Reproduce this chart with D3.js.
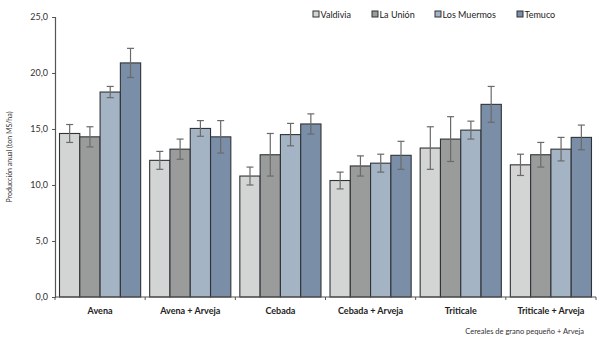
<!DOCTYPE html>
<html><head><meta charset="utf-8">
<script src="https://cdn.jsdelivr.net/npm/d3@7"></script>
<style>body{margin:0;background:#fff}svg{display:block}text{font-family:Lato,"Open Sans",sans-serif}</style>
</head><body>
<svg id="c" width="600" height="342"></svg>
<script>
const categories = ["Avena","Avena + Arveja","Cebada","Cebada + Arveja","Triticale","Triticale + Arveja"];
const series = ["Valdivia","La Unión","Los Muermos","Temuco"];
const valdivia   = [14.6, 12.2, 10.8, 10.4, 13.3, 11.8];
const laUnion    = [14.3, 13.2, 12.7, 11.7, 14.1, 12.7];
const losMuermos = [18.3, 15.05, 14.5, 11.95, 14.9, 13.2];
const temuco     = [20.9, 14.3, 15.45, 12.65, 17.2, 14.25];
const errValdivia   = [0.8, 0.8, 0.8, 0.75, 1.9, 0.95];
const errLaUnion    = [0.9, 0.9, 1.9, 0.9, 2.0, 1.1];
const errLosMuermos = [0.5, 0.7, 1.0, 0.8, 0.8, 1.05];
const errTemuco     = [1.3, 1.45, 0.9, 1.25, 1.6, 1.1];
const yTicks = [0,5,10,15,20,25];
const colors = ["#d3d5d4","#9a9c9c","#a4b4c5","#7a8ea8"];

const values = [valdivia, laUnion, losMuermos, temuco];
const errs = [errValdivia, errLaUnion, errLosMuermos, errTemuco];

const svg = d3.select("#c");
const m = {l:55, r:4, t:17, b:45};
const W = 600, H = 342;
const x0 = d3.scaleBand().domain(categories).range([m.l, W-m.r]).paddingInner(0.1).paddingOuter(0.05);
const x = d3.scaleBand().domain(categories).range([m.l, W-m.r]);
const x1 = d3.scaleBand().domain(series).range([0, x0.bandwidth()]);
const y = d3.scaleLinear().domain([0,25]).range([H-m.b, m.t]);

// bars
categories.forEach((c,ci)=>{
  const g = svg.append("g").attr("transform",`translate(${x0(c)},0)`);
  series.forEach((s,si)=>{
    g.append("rect").attr("x",x1(s)).attr("y",y(values[si][ci]))
      .attr("width",x1.bandwidth()).attr("height",y(0)-y(values[si][ci]))
      .attr("fill",colors[si]).attr("stroke","#2f3336").attr("stroke-width",1.1);
  });
  series.forEach((s,si)=>{
    const cx = x1(s)+x1.bandwidth()/2;
    const v = values[si][ci], e = errs[si][ci];
    const ec = "#6a6a6a";
    g.append("line").attr("x1",cx).attr("x2",cx).attr("y1",y(v+e)).attr("y2",y(v-e)).attr("stroke",ec).attr("stroke-width",1.2);
    [v+e, v-e].forEach(t=>g.append("line").attr("x1",cx-3.5).attr("x2",cx+3.5).attr("y1",y(t)).attr("y2",y(t)).attr("stroke",ec).attr("stroke-width",1.2));
  });
});

// y axis
const ya = svg.append("g").attr("transform",`translate(${m.l},0)`)
  .call(d3.axisLeft(y).tickValues(yTicks).tickSize(3).tickFormat(d=>d3.format(".1f")(d).replace(".",",")));
ya.select(".domain").attr("stroke","#555").attr("stroke-width",1.2);
ya.selectAll(".tick line").attr("stroke","#555");
ya.selectAll(".tick text").attr("font-size",9).attr("fill","#333").attr("x",-7).style("font-family","Lato, 'Open Sans', sans-serif");

// x axis
const xa = svg.append("g").attr("transform",`translate(0,${y(0)})`);
xa.append("line").attr("x1",m.l).attr("x2",W-m.r).attr("stroke","#555").attr("stroke-width",1.2);
const bounds = categories.map(c=>x(c)).concat([x(categories[categories.length-1])+x.bandwidth()]);
bounds.forEach(b=>xa.append("line").attr("x1",b).attr("x2",b).attr("y1",0).attr("y2",3).attr("stroke","#555"));
categories.forEach(c=>xa.append("text").attr("x",x(c)+x.bandwidth()/2).attr("y",17)
  .attr("text-anchor","middle").attr("font-size",9).attr("font-weight","bold").attr("fill","#222").text(c));

// labels
svg.append("text").attr("transform",`translate(12,${(y(0)+y(25))/2}) rotate(-90)`)
  .attr("text-anchor","middle").attr("font-size",7).attr("fill","#333").text("Producción anual (ton MS/ha)");
svg.append("text").attr("x",584).attr("y",334).attr("text-anchor","end").attr("font-size",7.5).attr("fill","#333")
  .text("Cereales de grano pequeño + Arveja");

// legend
const lx = [313, 372, 435, 517];
series.forEach((s,si)=>{
  svg.append("rect").attr("x",lx[si]).attr("y",11).attr("width",6).attr("height",6)
    .attr("fill",colors[si]).attr("stroke","#2f3336").attr("stroke-width",1);
  svg.append("text").attr("x",lx[si]+7.5).attr("y",17.5).attr("font-size",9).attr("fill","#222").text(s);
});
</script>
</body></html>
